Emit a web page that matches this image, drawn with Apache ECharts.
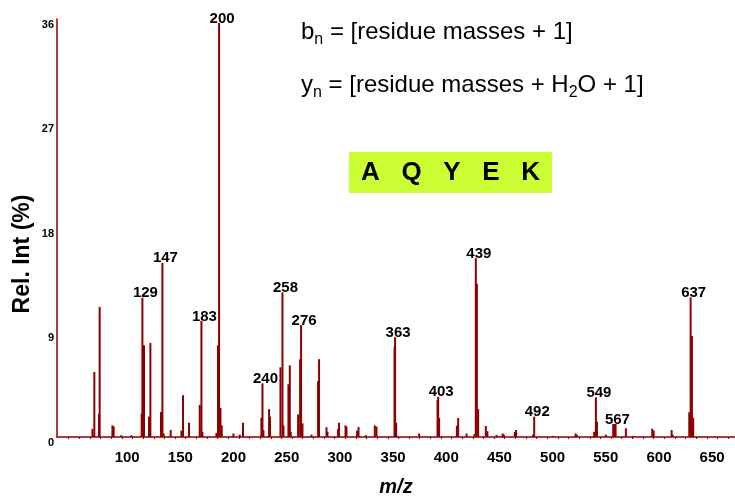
<!DOCTYPE html>
<html>
<head>
<meta charset="utf-8">
<script src="https://cdn.jsdelivr.net/npm/echarts@6/dist/echarts.min.js"></script>
<style>
  html, body { margin: 0; padding: 0; background: #fff; }
  #spectrum { width: 735px; height: 497px; }
</style>
</head>
<body>
<div id="spectrum"></div>
<script>
// peak positions on the drawn m/z axis and relative intensities (%)
var mz = [67.3, 69.1, 73.5, 74.1, 86.1, 87.3, 94.5, 104.0, 113.6, 114.3, 115.8, 120.5, 121.8,
  131.8, 133.1, 134.3, 140.9, 151.0, 152.5, 158.1, 168.2, 169.8, 170.7, 183.9, 185.4, 186.4,
  187.7, 188.9, 199.9, 205.8, 208.9, 226.2, 227.2, 228.1, 233.4, 234.3, 244.1, 246.0, 246.9,
  251.6, 252.9, 253.8, 260.7, 262.6, 263.5, 264.8, 273.3, 279.5, 280.4, 287.4, 288.3, 298.3,
  299.2, 305.3, 306.2, 316.2, 317.5, 324.4, 332.8, 334.4, 351.4, 351.9, 352.9, 374.5, 391.8,
  392.4, 393.3, 410.0, 411.2, 419.1, 426.6, 427.8, 428.8, 430.0, 437.2, 438.7, 447.3, 453.0,
  454.2, 464.5, 465.7, 481.7, 482.7, 500.5, 521.6, 522.8, 539.1, 540.7, 541.7, 550.1, 557.0,
  558.1, 559.2, 568.9, 575.8, 593.7, 595.0, 611.9, 612.9, 628.5, 629.8, 631.0, 632.2];
var intensity = [0.7, 5.6, 2.0, 11.2, 1.0, 0.9, 0.15, 0.15, 2.0, 12.0, 7.9, 1.75, 8.1,
  2.15, 15.0, 0.3, 0.6, 0.55, 3.6, 1.23, 2.76, 10.0, 0.45, 0.35, 7.9, 35.65,
  2.5, 1.0, 0.3, 0.2, 1.23, 1.66, 4.62, 0.6, 2.4, 1.75, 6.0, 12.46, 1.0,
  4.54, 6.17, 0.45, 1.95, 6.7, 9.65, 1.18, 0.2, 4.82, 6.7, 0.84, 0.45, 0.69,
  1.23, 1.0, 0.9, 0.55, 0.86, 0.15, 1.0, 0.9, 7.78, 8.6, 1.23, 0.3, 3.19,
  3.47, 1.64, 0.97, 1.64, 0.3, 0.25, 15.4, 13.2, 2.4, 0.95, 0.5, 0.17, 0.3,
  0.2, 0.45, 0.6, 0.2, 1.75, 0.1, 0.3, 0.2, 0.45, 3.42, 1.32, 0.2, 1.12,
  1.12, 1.12, 0.75, 0.1, 0.72, 0.55, 0.6, 0.2, 2.13, 12.03, 8.7, 1.66];

// labelled peaks: position on the axis and the printed m/z
var labelMz = [114.3, 133.1, 169.8, 186.4, 227.2, 246.0, 263.5, 351.9, 392.4, 427.8, 482.7, 540.7, 558.1, 629.8];
var labelText = ['129', '147', '183', '200', '240', '258', '276', '363', '403', '439', '492', '549', '567', '637'];

var xTickLabels = [100, 150, 200, 250, 300, 350, 400, 450, 500, 550, 600, 650];
var yTickLabels = [0, 9, 18, 27, 36];

var minorTicks = [];
for (var t = 45; t < 672; t += 10) minorTicks.push(t);

var FONT = '"Liberation Sans", Arial, sans-serif';
var RED = '#8b0000';

var peaks = mz.map(function (m, i) {
  var item = { value: [m, intensity[i]] };
  var k = labelMz.indexOf(m);
  if (k >= 0) {
    item.label = { show: true, formatter: labelText[k] };
  }
  return item;
});

var myChart = echarts.init(document.getElementById('spectrum'));
var option = {
  animation: false,
  backgroundColor: '#fff',
  grid: { left: 57, right: 0, top: 19, bottom: 60, containLabel: false, outerBoundsMode: 'none' },
  xAxis: {
    type: 'value',
    min: 34,
    max: 671.5,
    name: 'm/z',
    nameLocation: 'middle',
    nameGap: 40,
    nameTextStyle: { fontFamily: FONT, fontSize: 20, fontWeight: 'bold', fontStyle: 'italic', color: '#000' },
    axisLine: { lineStyle: { color: RED, width: 1.5 } },
    axisTick: { show: true, length: 2, customValues: minorTicks, lineStyle: { color: RED, width: 1 } },
    axisLabel: {
      customValues: xTickLabels,
      margin: 13,
      fontFamily: FONT, fontSize: 15, fontWeight: 'bold', color: '#000'
    },
    splitLine: { show: false }
  },
  yAxis: {
    type: 'value',
    min: 0,
    max: 36,
    interval: 9,
    axisLine: { show: true, lineStyle: { color: RED, width: 1.5 } },
    axisTick: { show: false },
    axisLabel: {
      customValues: yTickLabels,
      margin: 3,
      verticalAlign: 'top',
      fontFamily: FONT, fontSize: 11, fontWeight: 'bold', color: '#000'
    },
    splitLine: { show: false }
  },
  series: [{
    name: 'spectrum',
    type: 'bar',
    barWidth: 2,
    itemStyle: { color: RED },
    label: {
      show: false,
      position: 'top',
      distance: -3,
      offset: [3, 0],
      fontFamily: FONT, fontSize: 15, fontWeight: 'bold', color: '#000'
    },
    data: peaks
  }],
  graphic: [
    {
      type: 'text', x: 23, y: 254, rotation: Math.PI / 2,
      style: {
        text: 'Rel. Int (%)',
        fontFamily: FONT, fontSize: 23, fontWeight: 'bold', fill: '#000',
        align: 'center', verticalAlign: 'middle'
      }
    },
    {
      type: 'text', left: 301, top: 20,
      style: {
        text: '{m|b}{s|n}{m| = [residue masses + 1]}',
        fill: '#000',
        rich: {
          m: { fontFamily: FONT, fontSize: 24, fill: '#000' },
          s: { fontFamily: FONT, fontSize: 16, fill: '#000', padding: [15, 0, 0, 0] }
        }
      }
    },
    {
      type: 'text', left: 301, top: 73,
      style: {
        text: '{m|y}{s|n}{m| = [residue masses + H}{s|2}{m|O + 1]}',
        fill: '#000',
        rich: {
          m: { fontFamily: FONT, fontSize: 24, fill: '#000' },
          s: { fontFamily: FONT, fontSize: 16, fill: '#000', padding: [15, 0, 0, 0] }
        }
      }
    },
    {
      type: 'rect',
      shape: { x: 349, y: 152, width: 203, height: 41 },
      style: { fill: '#ccff33' }
    },
    {
      type: 'text', x: 450.5, y: 173,
      style: {
        text: 'A   Q   Y   E   K',
        fontFamily: FONT, fontSize: 26, fontWeight: 'bold', fill: '#000',
        align: 'center', verticalAlign: 'middle'
      }
    }
  ]
};
myChart.setOption(option);
window.addEventListener('resize', function () { myChart.resize(); });
</script>
</body>
</html>
